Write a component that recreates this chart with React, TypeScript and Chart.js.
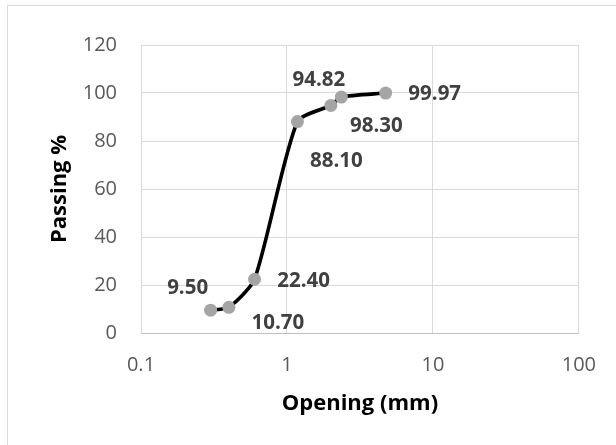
import React, { useEffect, useRef } from "react";
import { Chart, registerables } from "chart.js";

Chart.register(...registerables);

const openings = [0.3, 0.4, 0.6, 1.18, 2.0, 2.36, 4.75];
const passing = [9.5, 10.7, 22.4, 88.1, 94.82, 98.3, 99.97];
const labelTexts = ["9.50", "10.70", "22.40", "88.10", "94.82", "98.30", "99.97"];
const xTicks = [0.1, 1, 10, 100];
const yTicks = [0, 20, 40, 60, 80, 100, 120];

// label offsets (pixels) relative to each marker, as placed in the reference
const labelOffsets: [number, number][] = [
  [-23, -22],
  [49, 16],
  [49, 2],
  [39, 40],
  [-12, -25],
  [35, 29],
  [49, 1],
];

const FONT = "'Open Sans', 'DejaVu Sans', sans-serif";

const labelPlugin = {
  id: "pointLabels",
  afterDatasetsDraw(chart: any) {
    const meta = chart.getDatasetMeta(0);
    const ctx = chart.ctx;
    ctx.save();
    ctx.font = `bold 20.5px ${FONT}`;
    ctx.fillStyle = "#404040";
    ctx.textAlign = "center";
    ctx.textBaseline = "middle";
    meta.data.forEach((pt: any, i: number) => {
      const [dx, dy] = labelOffsets[i];
      ctx.fillText(labelTexts[i], pt.x + dx, pt.y + dy);
    });
    ctx.restore();
  },
};

export default function App() {
  const ref = useRef<HTMLCanvasElement | null>(null);
  useEffect(() => {
    if (!ref.current) return;
    const chart = new Chart(ref.current, {
      type: "line",
      data: {
        datasets: [
          {
            data: openings.map((x, i) => ({ x, y: passing[i] })),
            borderColor: "#000000",
            borderWidth: 3.6,
            tension: 0.22,
            pointRadius: 6.5,
            pointBackgroundColor: "#a5a5a5",
            pointBorderColor: "#a5a5a5",
            pointBorderWidth: 0,
            fill: false,
          },
        ],
      },
      options: {
        animation: false,
        responsive: false,
        maintainAspectRatio: false,
        layout: { padding: { left: 0, top: 45, right: 36, bottom: 0 } },
        plugins: { legend: { display: false }, tooltip: { enabled: false } },
        scales: {
          x: {
            type: "logarithmic",
            min: 0.1,
            max: 100,
            afterFit: (s: any) => {
              s.height = 112;
            },
            afterBuildTicks: (s: any) => {
              s.ticks = xTicks.map((v) => ({ value: v }));
            },
            ticks: {
              color: "#595959",
              font: { family: FONT, size: 20 },
              padding: 20,
              maxRotation: 0,
              callback: (v: any) => String(v),
            },
            grid: { color: "#d9d9d9", lineWidth: 1, drawTicks: false },
            border: { display: true, color: "#bfbfbf", width: 1 },
            title: {
              display: true,
              text: "Opening (mm)",
              color: "#000000",
              font: { family: FONT, size: 22, weight: "bold" },
              padding: { top: 0, bottom: 28 },
            },
          },
          y: {
            min: 0,
            max: 120,
            afterFit: (s: any) => {
              s.width = 141;
            },
            afterBuildTicks: (s: any) => {
              s.ticks = yTicks.map((v) => ({ value: v }));
            },
            ticks: {
              color: "#595959",
              font: { family: FONT, size: 20 },
              padding: 24,
            },
            grid: { color: "#d9d9d9", lineWidth: 1, drawTicks: false },
            border: { display: false },
            title: {
              display: true,
              text: "Passing %",
              color: "#000000",
              font: { family: FONT, size: 22, weight: "bold" },
              padding: { top: 47, bottom: 0 },
            },
          },
        },
      },
      plugins: [labelPlugin],
    });
    return () => chart.destroy();
  }, []);
  return (
    <div
      style={{
        position: "fixed",
        left: 0,
        top: 0,
        width: 616,
        height: 445,
        background: "#ffffff",
        overflow: "hidden",
      }}
    >
      <div
        style={{
          position: "absolute",
          left: 7,
          top: 5,
          width: 640,
          height: 470,
          border: "1px solid #d9d9d9",
        }}
      />
      <canvas
        ref={ref}
        width={616}
        height={445}
        style={{ position: "absolute", left: 0, top: 0, width: 616, height: 445 }}
      />
    </div>
  );
}
